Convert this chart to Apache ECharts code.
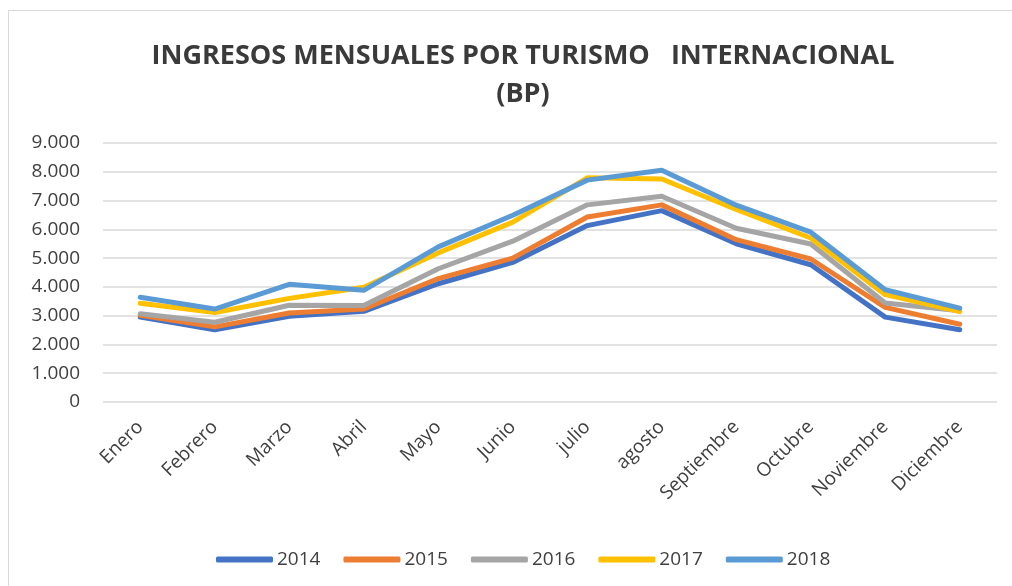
<!DOCTYPE html>
<html>
<head>
<meta charset="utf-8">
<script src="https://cdn.jsdelivr.net/npm/echarts@6/dist/echarts.min.js"></script>
<style>
html,body{margin:0;padding:0;background:#fff;}
#frame{position:absolute;left:8px;top:10px;width:1010px;height:580px;border:1px solid #d9d9d9;box-sizing:border-box;}
#chart{position:absolute;left:0;top:0;width:1012px;height:586px;}
</style>
</head>
<body>
<div id="frame"></div>
<div id="chart"></div>
<script>
const categories = ['Enero','Febrero','Marzo','Abril','Mayo','Junio','julio','agosto','Septiembre','Octubre','Noviembre','Diciembre'];
const years = ['2014','2015','2016','2017','2018'];
const s2014 = [2950, 2510, 2980, 3150, 4110, 4850, 6130, 6650, 5500, 4770, 2950, 2510];
const s2015 = [3010, 2610, 3090, 3230, 4290, 5000, 6430, 6850, 5640, 4970, 3290, 2700];
const s2016 = [3070, 2770, 3360, 3350, 4630, 5590, 6850, 7150, 6040, 5490, 3440, 3170];
const s2017 = [3430, 3110, 3600, 3990, 5180, 6250, 7790, 7750, 6690, 5700, 3730, 3140];
const s2018 = [3640, 3230, 4090, 3880, 5390, 6490, 7710, 8050, 6840, 5900, 3900, 3260];
const yTicks = [0, 1000, 2000, 3000, 4000, 5000, 6000, 7000, 8000, 9000];
const colors = ['#4472C4','#ED7D31','#A5A5A5','#FFC000','#5B9BD5'];
const seriesData = [s2014, s2015, s2016, s2017, s2018];

const font = '"Open Sans", sans-serif';
const chart = echarts.init(document.getElementById('chart'));
chart.setOption({
  animation: false,
  color: colors,
  title: {
    text: 'INGRESOS MENSUALES POR TURISMO   INTERNACIONAL\n(BP)',
    left: 518, top: 32, textAlign: 'center',
    textStyle: {fontFamily: font, fontSize: 27, fontWeight: 'bold', color: '#3a3a3a', lineHeight: 38}
  },
  legend: {
    top: 545, left: 211,
    itemWidth: 57, itemHeight: 6, itemGap: 23,
    icon: 'roundRect',
    textStyle: {fontFamily: font, fontSize: 19, color: '#404040', padding: [0,0,0,-1]},
    data: years
  },
  grid: {left: 103, right: 15, top: 143, bottom: 184},
  xAxis: {
    type: 'category',
    data: categories,
    boundaryGap: true,
    axisLine: {show: false},
    axisTick: {show: false},
    axisLabel: {rotate: 45, fontFamily: font, fontSize: 19, color: '#404040', margin: 22, interval: 0}
  },
  yAxis: {
    type: 'value',
    min: yTicks[0], max: yTicks[yTicks.length-1], interval: 1000,
    axisLine: {show: false},
    axisTick: {show: false},
    splitLine: {lineStyle: {color: '#d9d9d9', width: 1.5}},
    axisLabel: {
      fontFamily: font, fontSize: 19, color: '#404040', margin: 23,
      formatter: v => v === 0 ? '0' : v.toString().replace(/\B(?=(\d{3})+(?!\d))/g, '.')
    }
  },
  series: years.map((y, i) => ({
    name: y, type: 'line', data: seriesData[i],
    symbol: 'none', lineStyle: {width: 5, color: colors[i], cap: 'round', join: 'round'},
    itemStyle: {color: colors[i]}
  }))
});
</script>
</body>
</html>
